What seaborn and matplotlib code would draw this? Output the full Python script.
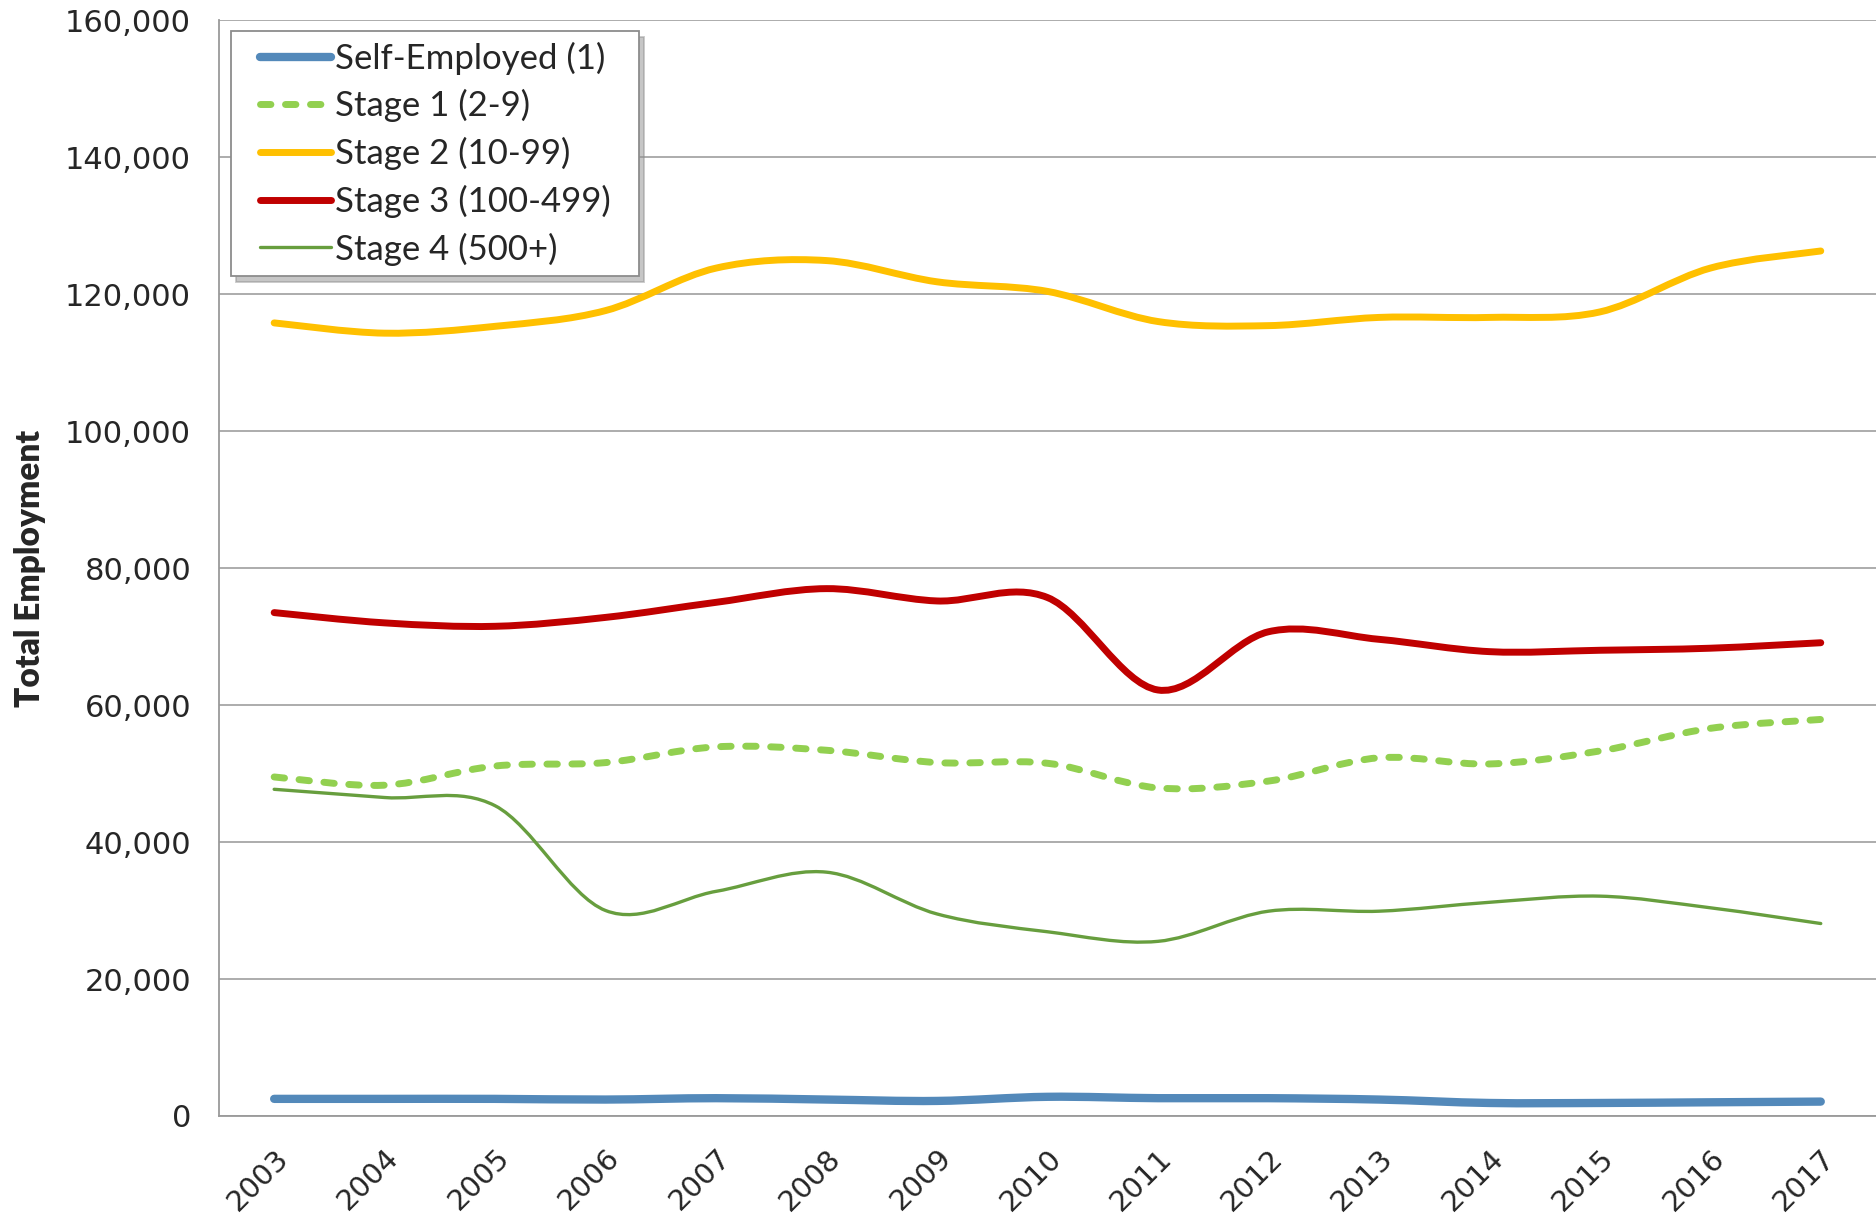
import matplotlib
matplotlib.use("Agg")
import matplotlib.pyplot as plt
import seaborn as sns
import pandas as pd
import numpy as np
from matplotlib.path import Path
from matplotlib.patches import PathPatch
from matplotlib.legend_handler import HandlerLine2D
from matplotlib.lines import Line2D
from matplotlib.ticker import FuncFormatter

years = list(range(2003, 2018))

self_employed = [2500, 2500, 2500, 2400, 2600, 2400, 2200, 2800, 2600, 2600, 2400, 1900, 1900, 2000, 2100]
stage1 = [49500, 48300, 51100, 51600, 53900, 53400, 51600, 51500, 47900, 48900, 52300, 51400, 53300, 56600, 57900]
stage2 = [115800, 114300, 115300, 117600, 123800, 124900, 121800, 120400, 116000, 115400, 116600, 116600, 117400, 123800, 126300]
stage3 = [73500, 72000, 71500, 72800, 75000, 77000, 75200, 75700, 62200, 70700, 69600, 67800, 68000, 68300, 69100]
stage4 = [47700, 46500, 45300, 30000, 32800, 35600, 29500, 26900, 25500, 29900, 29900, 31200, 32100, 30400, 28100]

series_names = ["Self-Employed (1)", "Stage 1 (2-9)", "Stage 2 (10-99)", "Stage 3 (100-499)", "Stage 4 (500+)"]
series_values = [self_employed, stage1, stage2, stage3, stage4]
colors = ["#5389BA", "#92D050", "#FFC000", "#C00000", "#679E3E"]
widths = [6.0, 5.0, 5.0, 5.0, 2.4]
dash_pattern = (0, (1.5, 2.1))
styles = ["-", dash_pattern, "-", "-", "-"]

df = pd.DataFrame({
    "Year": years * len(series_names),
    "Employment": [v for vals in series_values for v in vals],
    "Series": [n for n in series_names for _ in years],
})


def smooth_path(x, y):
    """Cubic Bezier path through every point (Catmull-Rom tangents)."""
    pts = np.column_stack([x, y]).astype(float)
    ext = np.vstack([pts[0], pts, pts[-1]])
    verts = [pts[0]]
    codes = [Path.MOVETO]
    for i in range(len(pts) - 1):
        p0, p1, p2, p3 = ext[i], ext[i + 1], ext[i + 2], ext[i + 3]
        c1 = p1 + (p2 - p0) / 6.0
        c2 = p2 - (p3 - p1) / 6.0
        verts += [c1, c2, p2]
        codes += [Path.CURVE4] * 3
    return Path(verts, codes)


class IndentedLineHandler(HandlerLine2D):
    """Legend line sample that starts a little to the right of its box."""
    indent = 0.55

    def get_xdata(self, legend, xdescent, ydescent, width, height, fontsize):
        x0 = -xdescent + self.indent * fontsize
        x1 = -xdescent + width
        xdata = np.array([x0, x1])
        return xdata, xdata


sns.set_theme(style="white")
plt.rcParams["font.family"] = ["DejaVu Sans"]

fig = plt.figure(figsize=(18.76, 12.23), dpi=100)
ax = fig.add_axes([0.1167, 0.0875, 0.8833, 0.8960])

for name, color, lw, ls in zip(series_names, colors, widths, styles):
    sns.lineplot(
        data=df[df["Series"] == name], x="Year", y="Employment",
        color=color, linewidth=lw, linestyle=ls, label=name, ax=ax,
        solid_capstyle="round", dash_capstyle="round", errorbar=None,
    )

ax.set_xlim(2002.5, 2017.5)
ax.set_ylim(0, 160000)
ax.set_yticks(range(0, 160001, 20000))
ax.yaxis.set_major_formatter(FuncFormatter(lambda v, p: f"{int(v):,}"))
ax.set_xticks(years)
ax.set_xticklabels([str(y) for y in years], rotation=45, ha="right",
                   rotation_mode="anchor", fontsize=21)
ax.tick_params(axis="x", pad=20, length=0)
ax.tick_params(axis="y", labelsize=22, pad=20, length=0)

ax.grid(axis="y", color="#A6A6A6", linewidth=1.3)
ax.set_axisbelow(True)
for side in ["top", "right"]:
    ax.spines[side].set_visible(False)
for side in ["left", "bottom"]:
    ax.spines[side].set_color("#9A9A9A")
    ax.spines[side].set_linewidth(1.3)

ax.set_xlabel("")
ax.set_ylabel("Total Employment", fontsize=24, fontweight="heavy",
              family=["Lato", "DejaVu Sans"])
ax.yaxis.set_label_coords(-0.1045, 0.5)

handles = [ln for ln in ax.get_lines() if ln.get_label() in series_names]
leg = ax.legend(
    handles=handles, labels=[n + "  " for n in series_names],
    handler_map={Line2D: IndentedLineHandler()},
    loc="upper left", bbox_to_anchor=(0.007, 0.99),
    prop={"family": ["Lato", "DejaVu Sans"], "size": 25},
    handlelength=2.6, handletextpad=0.1, labelspacing=0.42,
    borderpad=0.3, borderaxespad=0, frameon=True, fancybox=False,
    shadow={"ox": 4, "oy": -4, "color": "#8F8F8F", "alpha": 0.5},
)
leg.get_frame().set_edgecolor("#8C8C8C")
leg.get_frame().set_linewidth(1.3)
leg.set_zorder(10)

# Redraw each series as a smoothed curve through its data points
for line in handles:
    xd, yd = line.get_xdata(), line.get_ydata()
    ls = line.get_linestyle()
    patch = PathPatch(
        smooth_path(xd, yd), transform=ax.transData, fill=False,
        edgecolor=line.get_color(), linewidth=line.get_linewidth(),
        linestyle="-" if ls == "-" else dash_pattern,
        capstyle="round", joinstyle="round", zorder=line.get_zorder(),
    )
    ax.add_patch(patch)
    line.set_visible(False)

fig.savefig("out.png", dpi=100, facecolor="white")
